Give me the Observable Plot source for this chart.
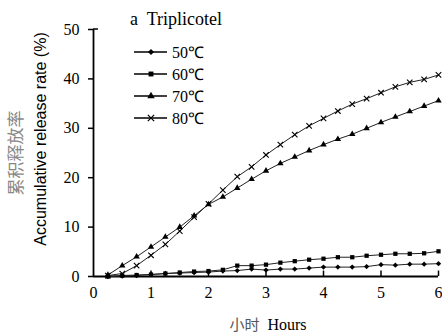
<!DOCTYPE html>
<html><head><meta charset="utf-8">
<script src="https://cdn.jsdelivr.net/npm/d3@7"></script>
<script src="https://cdn.jsdelivr.net/npm/@observablehq/plot@0.6"></script>
<style>
body{margin:0;background:#fff;}
#wrap{position:relative;width:442px;height:334px;overflow:hidden;}
</style>
</head><body><div id="wrap"></div>
<script>
const hours = [0.25,0.5,0.75,1,1.25,1.5,1.75,2,2.25,2.5,2.75,3,3.25,3.5,3.75,4,4.25,4.5,4.75,5,5.25,5.5,5.75,6];
const s50 = [0,0.1,0.2,0.4,0.6,0.7,0.8,0.9,1.1,1.2,1.5,1.3,1.5,1.5,1.7,1.9,1.9,1.9,2.0,2.4,2.3,2.5,2.5,2.6];
const s60 = [0,0.2,0.3,0.4,0.6,0.8,1.0,1.1,1.35,2.2,2.2,2.4,2.8,3.1,3.4,3.6,3.9,3.9,4.2,4.4,4.6,4.6,4.7,5.1];
const s70 = [0.3,2.2,4.0,6.0,8.0,10.0,12.3,14.6,16.1,17.9,19.7,21.4,22.9,24.2,25.5,26.7,27.8,28.8,30.0,31.2,32.3,33.4,34.5,35.6];
const s80 = [0.2,0.6,2.2,4.3,6.5,9.2,12.0,14.7,17.5,20.2,22.2,24.6,26.7,28.7,30.5,32.0,33.5,34.9,36.0,37.2,38.4,39.3,39.9,40.8];
const seriesNames = ["50℃","60℃","70℃","80℃"];
const seriesSymbols = ["diamond2","square","triangle","times"];
const xTicks = [0,1,2,3,4,5,6];
const yTicks = [0,10,20,30,40,50];

const allSeries = [s50,s60,s70,s80];
const rows = [];
allSeries.forEach((s,i)=>s.forEach((v,j)=>rows.push({t:hours[j], v, name:seriesNames[i], sym:seriesSymbols[i]})));

const serif = "'Liberation Serif','Times New Roman',serif";
const plot = Plot.plot({
  width:442, height:334,
  marginLeft:93, marginRight:4, marginTop:29, marginBottom:58,
  style:{fontFamily:serif, fontSize:"16px", color:"#000", background:"#fff"},
  x:{domain:[0,6], ticks:xTicks, label:null},
  y:{domain:[0,50], ticks:yTicks, label:null},
  symbol:{domain:seriesNames, range:seriesSymbols},
  marks:[
    Plot.axisX(xTicks,{tickSize:0, tickPadding:10, fontSize:16, fontFamily:serif}),
    Plot.axisY(yTicks,{tickSize:5, tickPadding:9, fontSize:16, fontFamily:serif, strokeWidth:1.5}),
    Plot.ruleX(xTicks.slice(1),{x:d=>d, y1:0, y2:1.1, strokeWidth:1.5}),
    Plot.ruleY([0],{strokeWidth:1.8}),
    Plot.ruleX([0],{y1:0, y2:50, strokeWidth:1.8}),
    Plot.line(rows,{x:"t", y:"v", z:"name", stroke:"#222", strokeWidth:1}),
    Plot.dot(rows.filter(d=>d.sym!=="times"),{x:"t", y:"v", symbol:"name", fill:"#000", stroke:"none", r:2.4}),
    Plot.dot(rows.filter(d=>d.sym==="times"),{x:"t", y:"v", symbol:"name", stroke:"#000", strokeWidth:1.1, r:2.6})
  ]
});
const wrap = document.getElementById("wrap");
wrap.appendChild(plot);

const svg = d3.select(plot);
svg.append("line").attr("x1",93).attr("x2",98).attr("y1",29).attr("y2",29).attr("stroke","#000").attr("stroke-width",1.5);

// legend
const lg = svg.append("g").attr("text-anchor","start");
const symMap = {diamond2:d3.symbolDiamond2, square:d3.symbolSquare, triangle:d3.symbolTriangle, times:d3.symbolTimes};
seriesNames.forEach((n,i)=>{
  const y = 52 + i*22;
  lg.append("line").attr("x1",134).attr("x2",167).attr("y1",y).attr("y2",y).attr("stroke","#000").attr("stroke-width",1.3);
  const p = lg.append("path").attr("transform",`translate(151,${y})`)
    .attr("d", d3.symbol(symMap[seriesSymbols[i]], seriesSymbols[i]==="times"?28:24)());
  if (seriesSymbols[i]==="times") p.attr("fill","none").attr("stroke","#000").attr("stroke-width",1.2);
  else p.attr("fill","#000");
  lg.append("text").attr("x",172).attr("y",y).attr("dy","0.35em").attr("text-anchor","start").attr("font-family",serif).attr("font-size",16).text(n);
});
// title
svg.append("text").attr("x",130).attr("y",25).attr("text-anchor","start").attr("font-family",serif).attr("font-size",18).style("white-space","pre").text("a  Triplicotel");

// y-axis labels
svg.append("text").attr("transform","translate(16,153) rotate(-90)").attr("text-anchor","middle").attr("dy","0.35em")
  .attr("font-family","'Noto Sans CJK SC',sans-serif").attr("font-size",17).attr("fill","#888").text("累积释放率");
svg.append("text").attr("transform","translate(40,139) rotate(-90)").attr("text-anchor","middle").attr("dy","0.35em")
  .attr("font-family","'Liberation Sans',Arial,sans-serif").attr("font-size",16).attr("fill","#000").text("Accumulative release rate (%)");
// x-axis label
const xl = svg.append("text").attr("x",268).attr("y",330).attr("text-anchor","middle").style("white-space","pre");
xl.append("tspan").attr("font-family","'Noto Sans CJK SC',sans-serif").attr("font-size",15).attr("fill","#555").text("小时");
xl.append("tspan").attr("font-family",serif).attr("font-size",16).attr("fill","#000").text("  Hours");
</script>
</body></html>
